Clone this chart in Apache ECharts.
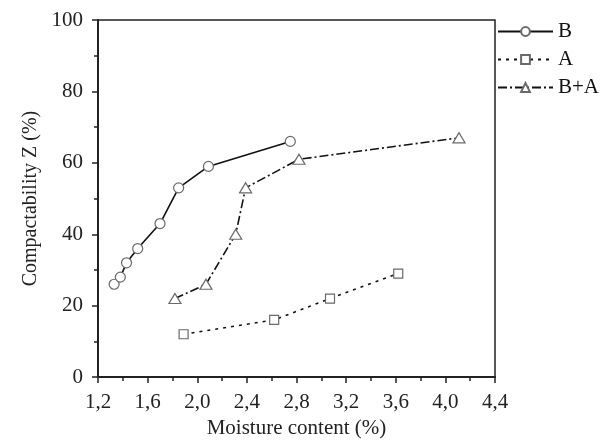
<!DOCTYPE html>
<html><head><meta charset="utf-8">
<script src="https://cdn.jsdelivr.net/npm/echarts@6/dist/echarts.min.js"></script>
<style>html,body{margin:0;padding:0;background:#fff}#c{width:613px;height:444px}</style>
</head><body><div id="c"></div>
<script>
var seriesNames = ['B', 'A', 'B+A'];
var bX = [1.33, 1.38, 1.43, 1.52, 1.70, 1.85, 2.09, 2.75];
var bY = [26, 28, 32, 36, 43, 53, 59, 66];
var aX = [1.89, 2.62, 3.07, 3.62];
var aY = [12, 16, 22, 29];
var baX = [1.82, 2.07, 2.31, 2.39, 2.82, 4.11];
var baY = [22, 26, 40, 53, 61, 67];
var xTicks = [1.2, 1.6, 2.0, 2.4, 2.8, 3.2, 3.6, 4.0, 4.4];
var yTicks = [0, 20, 40, 60, 80, 100];

function pairs(xs, ys){ return xs.map(function(x,i){return [x, ys[i]];}); }
var font = '"Liberation Serif", "DejaVu Serif", serif';
var chart = echarts.init(document.getElementById('c'));
var markerStyle = {color:'#fff', borderColor:'#6a6a6a', borderWidth:1.2};
var triangle = 'path://M0,10 L5.5,0 L11,10 Z';
chart.setOption({
  animation:false,
  textStyle:{fontFamily:font},
  grid:{left:98, right:118, top:20, bottom:66, show:true, borderColor:'#222', borderWidth:1.5},
  legend:{
    orient:'vertical', left:492, top:16, itemWidth:55, itemHeight:11, itemGap:7,
    textStyle:{fontFamily:font, fontSize:21, color:'#111'},
    data:seriesNames
  },
  xAxis:{
    type:'value', min:1.2, max:4.4, interval:0.4,
    name:'Moisture content (%)', nameLocation:'middle', nameGap:34,
    nameTextStyle:{fontFamily:font, fontSize:21, color:'#222'},
    axisLine:{lineStyle:{color:'#222', width:2}},
    axisTick:{length:6, lineStyle:{width:1.5, color:'#222'}},
    minorTick:{show:true, splitNumber:2, length:4, lineStyle:{color:'#222', width:1.5}},
    splitLine:{show:false},
    axisLabel:{fontFamily:font, fontSize:21, color:'#222', margin:15,
      formatter:function(v){ return v.toFixed(1).replace('.', ','); }}
  },
  yAxis:{
    type:'value', min:0, max:100, interval:20,
    name:'Compactability Z (%)', nameLocation:'middle', nameGap:57,
    nameTextStyle:{fontFamily:font, fontSize:20, color:'#222'},
    axisLine:{lineStyle:{color:'#222', width:2}},
    axisTick:{length:6, lineStyle:{width:1.5, color:'#222'}},
    minorTick:{show:true, splitNumber:2, length:4, lineStyle:{color:'#222', width:1.5}},
    splitLine:{show:false},
    axisLabel:{fontFamily:font, fontSize:21, color:'#222', margin:15}
  },
  series:[
    {name:seriesNames[0], type:'line', data:pairs(bX,bY), symbol:'circle', symbolSize:10,
     lineStyle:{color:'#111', width:1.6, type:'solid'}, itemStyle:markerStyle},
    {name:seriesNames[1], type:'line', data:pairs(aX,aY), symbol:'rect', symbolSize:9,
     lineStyle:{color:'#111', width:1.6, type:[3,5]}, itemStyle:markerStyle},
    {name:seriesNames[2], type:'line', data:pairs(baX,baY), symbol:triangle, symbolSize:[12,10],
     lineStyle:{color:'#111', width:1.6, type:[9,3,2,3]}, itemStyle:markerStyle}
  ]
});
</script></body></html>
